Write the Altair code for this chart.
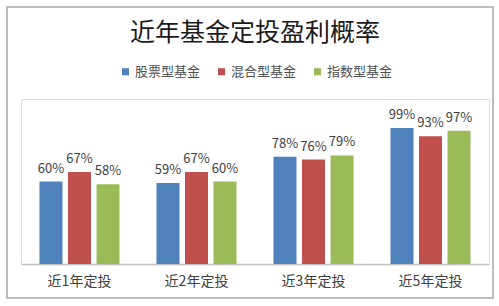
import altair as alt
import pandas as pd

categories = ["近1年定投", "近2年定投", "近3年定投", "近5年定投"]
series = ["股票型基金", "混合型基金", "指数型基金"]
stock = [60, 59, 78, 99]
mixed = [67, 67, 76, 93]
index_ = [58, 60, 79, 97]
colors = ["#4F81BD", "#C0504D", "#9BBB59"]

rows = []
for vals, s in zip([stock, mixed, index_], series):
    for c, v in zip(categories, vals):
        rows.append({"cat": c, "series": s, "value": v, "label": f"{v}%"})
df = pd.DataFrame(rows)

FONT = "Noto Sans CJK SC"

x = alt.X("cat:N", sort=categories, title=None,
          scale=alt.Scale(paddingInner=0.316, paddingOuter=0.158),
          axis=alt.Axis(labelAngle=0, ticks=False, domainColor="#c0c0c0", domainWidth=1.5,
                        labelFontSize=14, labelColor="#404040", labelFont=FONT, labelPadding=10))
xo = alt.XOffset("series:N", sort=series,
                 scale=alt.Scale(paddingInner=0.193, paddingOuter=0))
y = alt.Y("value:Q", scale=alt.Scale(domain=[0, 120]), axis=None)

base = alt.Chart(df)

bars = base.mark_bar().encode(
    x=x, xOffset=xo, y=y,
    color=alt.Color("series:N", sort=series,
                    scale=alt.Scale(domain=series, range=colors),
                    legend=alt.Legend(title=None, orient="none", direction="horizontal",
                                      legendX=98, legendY=-34, symbolType="square",
                                      symbolSize=50, symbolStrokeWidth=0,
                                      labelFontSize=13, labelColor="#505050", labelFont=FONT,
                                      columnPadding=14, labelOffset=3, padding=0)),
)

labels = base.mark_text(baseline="bottom", dy=-6, fontSize=13, color="#404040", font=FONT).encode(
    x=x, xOffset=xo, y=y, text="label:N"
)

border = alt.Chart(pd.DataFrame({"a": [0]})).mark_rect(
    fill=None, stroke="#a8a8a8", strokeWidth=1.5
).encode(x=alt.value(-14), x2=alt.value(472), y=alt.value(-92), y2=alt.value(199))

chart = alt.layer(border, bars, labels).properties(
    width=468, height=165,
    padding={"left": 21, "top": 99, "right": 10, "bottom": 42},
    autosize=alt.AutoSizeParams(type="none"),
    title=alt.Title("近年基金定投盈利概率", fontSize=25, font=FONT, fontWeight="normal",
                    color="#1a1a1a", anchor="middle", offset=-40),
).configure_view(stroke=None).configure(background="white")

chart.save("out.html", embed_options={"renderer": "svg", "actions": False})
